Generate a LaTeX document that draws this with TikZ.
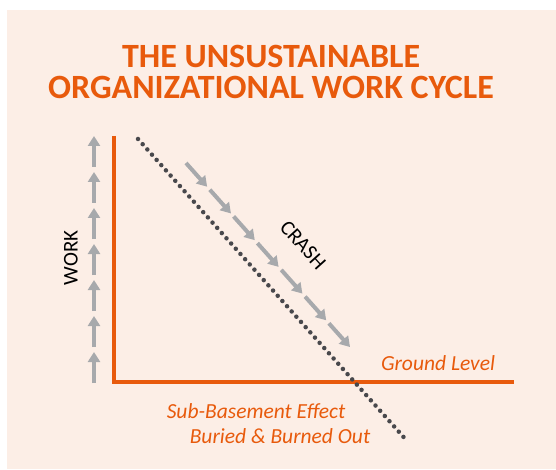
\documentclass[tikz,border=0pt]{standalone}
\usepackage{fontspec}
\setmainfont{Carlito}
\usetikzlibrary{arrows.meta, positioning, calc}

\definecolor{cycleorange}{RGB}{232,90,12}
\definecolor{cyclebg}{RGB}{252,238,230}
\definecolor{arrowgray}{RGB}{167,169,172}
\definecolor{dotgray}{RGB}{72,72,76}

\begin{document}
\begin{tikzpicture}[x=1pt, y=-1pt,
    axis/.style={draw=cycleorange, line width=4pt},
    workarrow/.style={-{Triangle[width=12pt,length=10pt]}, draw=arrowgray, line width=4pt},
    dotline/.style={draw=dotgray, line width=4.5pt, line cap=round, dash pattern=on 0pt off 7pt},
    title/.style={text=cycleorange, font=\bfseries\fontsize{34}{36}\selectfont, anchor=base},
    axistext/.style={font=\fontsize{21}{24}\selectfont},
    note/.style={text=cycleorange, font=\itshape\fontsize{21.5}{24}\selectfont, anchor=base}
]

% Fundo
\useasboundingbox (0,0) rectangle (556,470);
\fill[cyclebg] (7,10) rectangle (556,469);

% Titulo
\node[title] (title1) at (271,68) {THE UNSUSTAINABLE};
\node[title] (title2) at (271,99) {ORGANIZATIONAL WORK CYCLE};

% Eixos
\coordinate (ytop) at (114,136);
\coordinate (origin) at (114,382);
\coordinate (xend) at (514,382);
\draw[axis] (ytop) -- (origin) -- (xend);

% Setas de trabalho (subida)
\foreach \i in {0,...,6} {
    \coordinate (wa\i) at (94,{383-36*\i});
    \coordinate (wb\i) at (94,{352-36*\i});
    \draw[workarrow] (wa\i) -- (wb\i);
}
\node[axistext, rotate=90] (work) at (71,258) {WORK};

% Linha pontilhada
\coordinate (dtop) at (138,139);
\coordinate (dbot) at (408,442);
\draw[dotline] (dtop) -- (dbot);

% Setas de queda
\coordinate (cs) at (186,163);
\coordinate (ce) at (350,347);
\foreach \i in {0,...,6} {
    \coordinate (ca\i) at ($(cs)!{0.1452*\i}!(ce)$);
    \coordinate (cb\i) at ($(cs)!{0.1452*\i+0.129}!(ce)$);
    \draw[workarrow] (ca\i) -- (cb\i);
}
\node[axistext, rotate=-48] (crash) at (303,245) {CRASH};

% Legendas
\node[note] (ground) at (438,370) {Ground Level};
\node[note] (sub) at (256,418) {Sub-Basement Effect};
\node[note] (buried) at (280,443) {Buried \& Burned Out};

\end{tikzpicture}
\end{document}
